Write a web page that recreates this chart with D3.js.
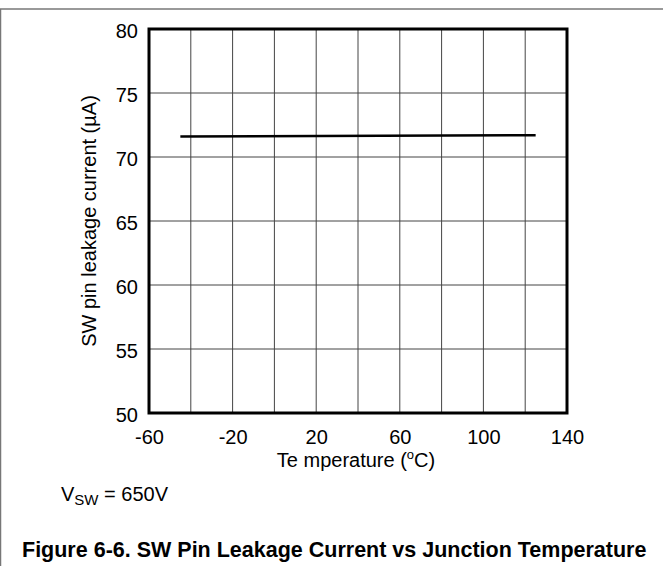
<!DOCTYPE html>
<html>
  <head>
    <meta charset="utf-8">
    <title>SW pin leakage current</title>
    <script src="https://d3js.org/d3.v7.min.js"></script>
    <style>
      body { margin: 0; background: #fff; }
      svg { display: block; }
      text { font-family: "Liberation Sans", Arial, sans-serif; fill: #000; }
      .tick text { font-size: 20px; }
    </style>
  </head>
  <body>
    <svg id="chart" width="663" height="566"></svg>
    <script>
      // data
      var temps = [-45, 125];
      var leakage = [71.6, 71.7];
      var xTicks = [-60, -20, 20, 60, 100, 140];
      var xGrid = [-40, -20, 0, 20, 40, 60, 80, 100, 120];
      var yTicks = [50, 55, 60, 65, 70, 75, 80];

      var margin = { top: 29, right: 96, bottom: 153, left: 149 };
      var width = 663, height = 566;
      var svg = d3.select("#chart");

      // outer frame (top and left edges)
      svg.append("line")
        .attr("x1", 0).attr("x2", width).attr("y1", 9).attr("y2", 9)
        .attr("stroke", "#777").attr("stroke-width", 1.5);
      svg.append("line")
        .attr("x1", 0.5).attr("x2", 0.5).attr("y1", 9).attr("y2", height)
        .attr("stroke", "#777").attr("stroke-width", 1.5);

      var x = d3.scaleLinear().domain([-60, 140]).range([margin.left, width - margin.right]);
      var y = d3.scaleLinear().domain([50, 80]).range([height - margin.bottom, margin.top]);

      // grid
      var grid = svg.append("g");
      grid.selectAll(".vgrid").data(xGrid).enter().append("line")
        .attr("x1", function(d) { return x(d); }).attr("x2", function(d) { return x(d); })
        .attr("y1", y(50)).attr("y2", y(80))
        .attr("stroke", "#444").attr("stroke-width", 1);
      grid.selectAll(".hgrid").data(yTicks.slice(1, -1)).enter().append("line")
        .attr("x1", x(-60)).attr("x2", x(140))
        .attr("y1", function(d) { return y(d); }).attr("y2", function(d) { return y(d); })
        .attr("stroke", "#444").attr("stroke-width", 1);

      // axes (plain hyphen minus, like the original)
      var fmt = function(d) { return String(d); };
      var xAxis = d3.axisBottom(x).tickValues(xTicks).tickFormat(fmt).tickSize(0).tickPadding(17);
      var yAxis = d3.axisLeft(y).tickValues(yTicks).tickFormat(fmt).tickSize(0).tickPadding(11);
      svg.append("g").attr("transform", "translate(0," + y(50) + ")").call(xAxis)
        .call(function(g) { g.select(".domain").remove(); });
      svg.append("g").attr("transform", "translate(" + x(-60) + ",0)").call(yAxis)
        .call(function(g) { g.select(".domain").remove(); })
        .selectAll(".tick text").attr("dy", "0.4em");

      // plot frame
      svg.append("rect")
        .attr("x", x(-60)).attr("y", y(80))
        .attr("width", x(140) - x(-60)).attr("height", y(50) - y(80))
        .attr("fill", "none").attr("stroke", "#000").attr("stroke-width", 3);

      // data line
      var line = d3.line()
        .x(function(d) { return x(d[0]); })
        .y(function(d) { return y(d[1]); });
      svg.append("path")
        .datum(temps.map(function(t, i) { return [t, leakage[i]]; }))
        .attr("d", line)
        .attr("fill", "none").attr("stroke", "#000").attr("stroke-width", 2.5);

      // axis titles
      var xt = svg.append("text")
        .attr("x", 356).attr("y", 467)
        .attr("text-anchor", "middle").attr("font-size", 20);
      xt.append("tspan").text("Te mperature (");
      xt.append("tspan").attr("font-size", 13).attr("dy", -8).text("o");
      xt.append("tspan").attr("dy", 8).text("C)");

      svg.append("text")
        .attr("transform", "translate(96," + ((y(50) + y(80)) / 2) + ") rotate(-90)")
        .attr("text-anchor", "middle").attr("font-size", 20)
        .text("SW pin leakage current (\u00b5A)");

      // condition note
      var note = svg.append("text").attr("x", 61).attr("y", 501).attr("font-size", 20);
      note.append("tspan").text("V");
      note.append("tspan").attr("font-size", 15).attr("dy", 4).text("SW");
      note.append("tspan").attr("dy", -4).text(" = 650V");

      // caption
      svg.append("text")
        .attr("x", 22).attr("y", 557)
        .attr("font-size", 21.5).attr("font-weight", "bold")
        .text("Figure 6-6. SW Pin Leakage Current vs Junction Temperature");
    </script>
  </body>
</html>
